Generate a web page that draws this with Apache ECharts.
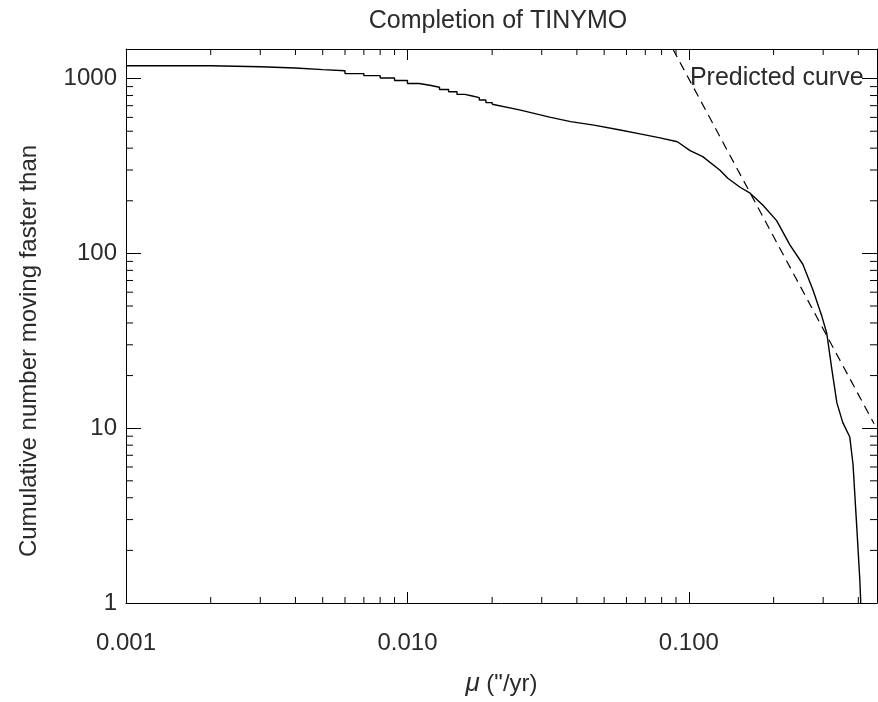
<!DOCTYPE html>
<html>
<head>
<meta charset="utf-8">
<title>Completion of TINYMO</title>
<script src="https://cdn.jsdelivr.net/npm/echarts@6/dist/echarts.min.js"></script>
<style>
html, body { margin: 0; padding: 0; background: #fff; }
#main { width: 878px; height: 702px; }
</style>
</head>
<body>
<div id="main"></div>
<script>
// proper motion mu ("/yr) and cumulative number moving faster than it
// low-mu part is quantised at 0.001 "/yr, so it is drawn as steps
var stepMu = [0.001, 0.002, 0.003, 0.004, 0.005, 0.006, 0.007, 0.008, 0.009, 0.010,
              0.011, 0.012, 0.013, 0.014, 0.015, 0.016, 0.017, 0.018, 0.019, 0.020];
var stepN = [1184, 1169, 1150, 1125, 1109, 1068, 1040, 1009, 975, 937,
             916, 893, 866, 841, 812, 795, 778, 754, 729, 713];

// rest of the curve
var tailMu = [0.020, 0.025, 0.032, 0.038, 0.046, 0.057, 0.067, 0.079, 0.091, 0.101,
              0.112, 0.129, 0.1375, 0.152, 0.165, 0.183, 0.205, 0.2285, 0.254, 0.276,
              0.297, 0.309, 0.322, 0.3355, 0.352, 0.373, 0.383, 0.395, 0.405, 0.408];
var tailN = [713, 662, 602, 567, 542, 508, 483, 458, 435, 387,
             358, 299, 269, 239, 221, 189, 154, 112, 86.7, 61.8,
             43.5, 34.9, 21.8, 14.0, 10.8, 8.9, 6.2, 2.7, 1.35, 1];

// predicted curve (N ~ mu^-3), its two ends
var predMu = [0.0877, 0.455];
var predN = [1477, 10.6];

// minor tick positions
var xMinor = [0.002, 0.003, 0.004, 0.005, 0.006, 0.007, 0.008, 0.009,
              0.02, 0.03, 0.04, 0.05, 0.06, 0.07, 0.08, 0.09, 0.2, 0.3, 0.4];
var yMinor = [2, 3, 4, 5, 6, 7, 8, 9, 20, 30, 40, 50, 60, 70, 80, 90,
              200, 300, 400, 500, 600, 700, 800, 900];

var X_MIN = 0.001, X_MAX = 0.466, Y_MIN = 1, Y_MAX = 1477;

var FONT = '"Liberation Sans", Arial, Helvetica, sans-serif';
var TEXT = '#2a2a2a';
var tickStyle = { stroke: '#000', lineWidth: 1 };

function zip(a, b) {
    return a.map(function (v, i) { return [v, b[i]]; });
}

function xMinorTicks(params, api) {
    var lo = api.coord([api.value(0), Y_MIN]);
    var hi = api.coord([api.value(0), Y_MAX]);
    return {
        type: 'group',
        children: [
            { type: 'line', shape: { x1: lo[0], y1: lo[1], x2: lo[0], y2: lo[1] - 6 }, style: tickStyle },
            { type: 'line', shape: { x1: hi[0], y1: hi[1], x2: hi[0], y2: hi[1] + 6 }, style: tickStyle }
        ]
    };
}

function yMinorTicks(params, api) {
    var l = api.coord([X_MIN, api.value(1)]);
    var r = api.coord([X_MAX, api.value(1)]);
    return {
        type: 'group',
        children: [
            { type: 'line', shape: { x1: l[0], y1: l[1], x2: l[0] + 7, y2: l[1] }, style: tickStyle },
            { type: 'line', shape: { x1: r[0], y1: r[1], x2: r[0] - 7, y2: r[1] }, style: tickStyle }
        ]
    };
}

function xAxisOf(pos) {
    return {
        type: 'log',
        logBase: 10,
        position: pos,
        min: X_MIN,
        max: X_MAX,
        axisLine: { lineStyle: { color: '#000', width: 1 } },
        axisTick: { inside: true, length: 11, lineStyle: { color: '#000', width: 1 } },
        splitLine: { show: false },
        axisLabel: {
            show: pos === 'bottom',
            margin: 28,
            fontSize: 24,
            fontFamily: FONT,
            color: TEXT,
            showMaxLabel: false,
            formatter: function (v) { return v.toFixed(3); }
        }
    };
}

function yAxisOf(pos) {
    return {
        type: 'log',
        logBase: 10,
        position: pos,
        min: Y_MIN,
        max: Y_MAX,
        axisLine: { lineStyle: { color: '#000', width: 1 } },
        axisTick: { inside: true, length: 15, lineStyle: { color: '#000', width: 1 } },
        splitLine: { show: false },
        axisLabel: {
            show: pos === 'left',
            margin: 9,
            fontSize: 24,
            fontFamily: FONT,
            color: TEXT,
            showMaxLabel: false,
            formatter: function (v) { return String(Math.round(v)); }
        }
    };
}

var chart = echarts.init(document.getElementById('main'));

var xBottom = xAxisOf('bottom');
xBottom.name = '{i|μ} ("/yr)';
xBottom.nameLocation = 'middle';
xBottom.nameGap = 68;
xBottom.nameTextStyle = {
    fontSize: 24, fontFamily: FONT, color: TEXT,
    rich: { i: { fontSize: 26, fontFamily: FONT, fontStyle: 'italic', color: TEXT } }
};

var option = {
    animation: false,
    backgroundColor: '#fff',
    grid: { left: 126, right: 1, top: 49, bottom: 92 },
    graphic: [
        {
            type: 'text',
            x: 498, y: 21,
            style: {
                text: 'Completion of TINYMO',
                fontSize: 25, fontFamily: FONT, fill: TEXT,
                textAlign: 'center', textVerticalAlign: 'middle'
            }
        },
        {
            type: 'text',
            x: 29, y: 351,
            rotation: Math.PI / 2,
            style: {
                text: 'Cumulative number moving faster than',
                fontSize: 24, fontFamily: FONT, fill: TEXT,
                textAlign: 'center', textVerticalAlign: 'middle'
            }
        }
    ],
    xAxis: [xBottom, xAxisOf('top')],
    yAxis: [yAxisOf('left'), yAxisOf('right')],
    series: [
        {
            type: 'line',
            data: zip(stepMu, stepN),
            step: 'end',
            showSymbol: false,
            silent: true,
            lineStyle: { color: '#000', width: 1.4 }
        },
        {
            type: 'line',
            data: zip(tailMu, tailN),
            showSymbol: false,
            silent: true,
            lineStyle: { color: '#000', width: 1.4 }
        },
        {
            type: 'line',
            data: zip(predMu, predN),
            showSymbol: false,
            silent: true,
            lineStyle: { color: '#000', width: 1.2, type: [9, 6] },
            markPoint: {
                symbol: 'circle',
                symbolSize: 0,
                silent: true,
                data: [{ coord: [0.1, 1000] }],
                label: {
                    show: true,
                    position: 'right',
                    distance: 1,
                    formatter: 'Predicted curve',
                    fontSize: 25,
                    fontFamily: FONT,
                    color: TEXT
                }
            }
        },
        {
            type: 'custom',
            silent: true,
            renderItem: xMinorTicks,
            data: xMinor.map(function (v) { return [v, Y_MIN]; })
        },
        {
            type: 'custom',
            silent: true,
            renderItem: yMinorTicks,
            data: yMinor.map(function (v) { return [X_MIN, v]; })
        }
    ]
};

chart.setOption(option);
</script>
</body>
</html>
